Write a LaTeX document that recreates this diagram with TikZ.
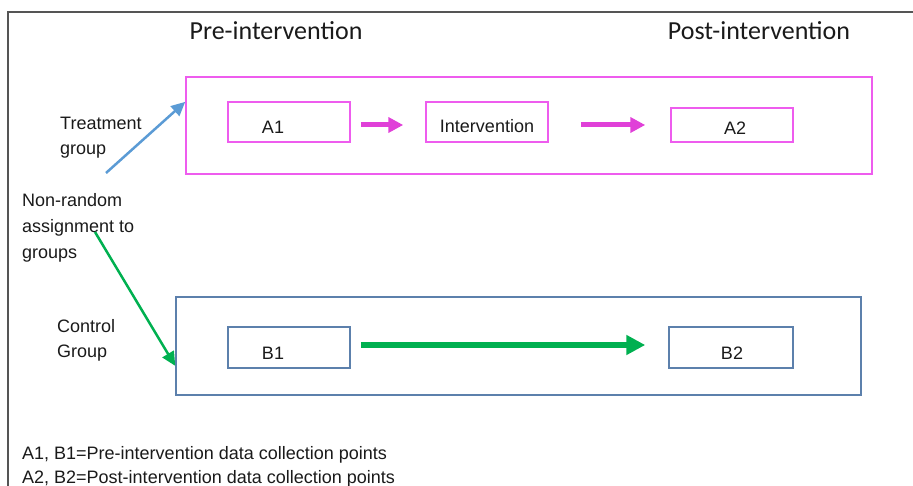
\documentclass[tikz,border=0pt]{standalone}
\usepackage{fontspec}
\setmainfont{Liberation Sans}
\newfontfamily\titlefont{Carlito}
\usetikzlibrary{arrows.meta,calc}
\definecolor{magbox}{HTML}{EE5CEE}
\definecolor{magarr}{HTML}{E040D8}
\definecolor{bluarr}{HTML}{5B9BD5}
\definecolor{ctlbox}{HTML}{5C80AC}
\definecolor{grnarr}{HTML}{00B050}
\definecolor{framecol}{HTML}{555555}
\definecolor{txt}{HTML}{1A1A1A}
\tikzset{
  ttl/.style={font=\titlefont\fontsize{26}{30}\selectfont, text=txt, inner sep=0pt},
  lbl/.style={font=\fontsize{18}{25}\selectfont, text=txt, inner sep=0pt, align=left},
  grpbox/.style={draw, line width=1.5pt, inner sep=0pt},
  tbx/.style={draw=magbox, line width=1.5pt, inner sep=0pt, minimum width=122pt},
  cbx/.style={draw=ctlbox, line width=1.5pt, inner sep=0pt, minimum width=122pt},
  magarrow/.style={draw=magarr, line width=5pt, -{Triangle[length=15pt,width=15pt]}},
  grnarrow/.style={draw=grnarr, line width=6pt, -{Triangle[length=19pt,width=19pt]}},
  thinarrow/.style={line width=2.5pt, -{Triangle[length=14pt,width=13pt]}}
}
\begin{document}
\begin{tikzpicture}[x=1pt,y=-1pt]
\useasboundingbox (0,0) rectangle (913,486);
% outer frame (left and top sides)
\draw[framecol, line width=1.5pt] (8,486) -- (8,12) -- (913,12);
% titles
\node[ttl] (pre) at (276,31) {Pre-intervention};
\node[ttl] (post) at (759,31) {Post-intervention};
% group boxes
\node[grpbox, draw=magbox, minimum width=686pt, minimum height=97pt] (tbox) at (529,125.5) {};
\node[grpbox, draw=ctlbox, minimum width=685pt, minimum height=98pt] (cbox) at (518.5,346) {};
% treatment row
\node[tbx, minimum height=40pt] (A1) at (289,122) {};
\node[lbl] (A1t) at (273,127) {A1};
\node[tbx, minimum height=40pt] (int) at (487,122) {};
\node[lbl] (intt) at (487,126) {Intervention};
\node[tbx, minimum height=34pt] (A2) at (732,125) {};
\node[lbl] (A2t) at (735,128) {A2};
\draw[magarrow, shorten <=10pt, shorten >=22pt] ([yshift=-3pt]A1.east) -- ([yshift=-3pt]int.west);
\draw[magarrow, shorten <=32pt, shorten >=25pt] ([yshift=-3pt]int.east) -- (A2.west);
% control row
\node[cbx, minimum height=41pt] (B1) at (289,347.5) {};
\node[lbl] (B1t) at (273,353) {B1};
\node[cbx, minimum height=41pt, minimum width=124pt] (B2) at (731,347.5) {};
\node[lbl] (B2t) at (732,353) {B2};
\draw[grnarrow, shorten <=10pt, shorten >=23pt] ([yshift=2.5pt]B1.east) -- ([yshift=2.5pt]B2.west);
% left labels
\node[lbl, anchor=west] (treat) at (60,137.5) {Treatment\\group};
\node[lbl, anchor=west, font=\fontsize{18}{26}\selectfont] (assign) at (22,228) {Non-random\\assignment to\\groups};
\node[lbl, anchor=west] (ctl) at (57,340.5) {Control\\Group};
% assignment arrows
\coordinate (bs) at (106,173);
\coordinate (gs) at (95,232);
\draw[thinarrow, draw=bluarr, fill=bluarr] (bs) -- ($(tbox.north west)!0.26!(tbox.south west)$);
\draw[thinarrow, draw=grnarr, fill=grnarr] (gs) -- ($(cbox.north west)!0.70!(cbox.south west)$);
% footer
\node[lbl, anchor=west, font=\fontsize{18}{24}\selectfont] (foot) at (22,467) {A1, B1=Pre-intervention data collection points\\A2, B2=Post-intervention data collection points};
\end{tikzpicture}
\end{document}
